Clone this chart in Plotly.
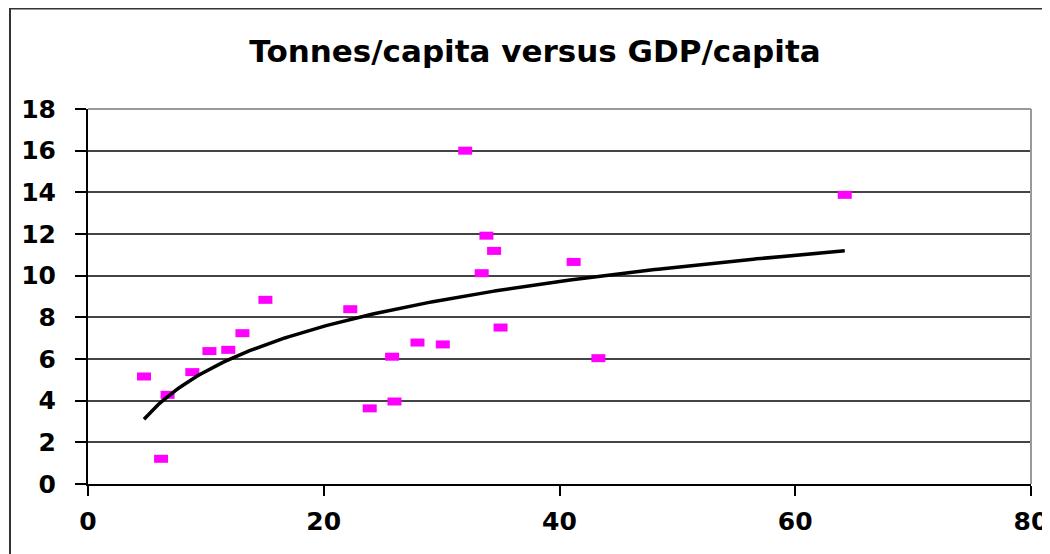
import numpy as np
import plotly.graph_objects as go

# GDP per capita (thousands) and tonnes per capita
gdp = [4.75, 6.2, 6.75, 8.85, 10.3, 11.9, 13.1, 15.05, 22.25, 23.9, 25.8, 26.0,
       27.95, 30.1, 32.0, 33.4, 33.8, 34.45, 35.0, 41.2, 43.3, 64.2]
tonnes = [5.16, 1.21, 4.28, 5.37, 6.38, 6.44, 7.24, 8.84, 8.39, 3.63, 6.11, 3.96,
          6.79, 6.70, 16.0, 10.12, 11.92, 11.19, 7.51, 10.66, 6.04, 13.88]

title_text = "Tonnes/capita versus GDP/capita"
x_ticks = [0, 20, 40, 60, 80]
y_ticks = [0, 2, 4, 6, 8, 10, 12, 14, 16, 18]

# Logarithmic trendline (least squares on ln x), as in a spreadsheet trendline
xg = np.array(gdp)
b, a = np.polyfit(np.log(xg), np.array(tonnes), 1)
xt = np.linspace(xg.min(), xg.max(), 200)
yt = a + b * np.log(xt)

fig = go.Figure()
fig.add_trace(go.Scatter(
    x=gdp, y=tonnes, mode="markers",
    marker=dict(symbol="line-ew", size=10, color="#ff00ff",
                line=dict(color="#ff00ff", width=8)),
    showlegend=False, hoverinfo="x+y"))
fig.add_trace(go.Scatter(
    x=xt, y=yt, mode="lines", line=dict(color="black", width=3.5),
    showlegend=False, hoverinfo="skip"))

tick_font = dict(family="DejaVu Sans", size=25, color="black", weight="bold")

# page body has an 8px margin, so the figure is 8px smaller and offset
W, H = 1042, 546
L, R, T, B = 80, 19, 101, 70
pw, ph = W - L - R, H - T - B

def px_x(x):  # figure pixel -> paper x
    return (x - L) / pw

def px_y(y):  # figure pixel -> paper y
    return (H - B - y) / ph

fig.update_layout(
    width=W, height=H,
    margin=dict(l=L, r=R, t=T, b=B, autoexpand=False),
    paper_bgcolor="white", plot_bgcolor="white",
    title=dict(text=title_text, xref="container", x=527 / W,
               y=1 - 43 / H, yanchor="middle", xanchor="center",
               font=dict(family="DejaVu Sans", size=31, color="black",
                         weight="bold")),
    xaxis=dict(range=[0, 80], tickvals=x_ticks, showgrid=False, automargin=False,
               zeroline=False, showline=True, linecolor="black", linewidth=2,
               ticks="outside", ticklen=10, tickwidth=2, tickcolor="black",
               tickfont=tick_font, ticklabelstandoff=4),
    yaxis=dict(range=[0, 18], tickvals=y_ticks, showgrid=True, automargin=False,
               gridcolor="#444444", gridwidth=1.5,
               zeroline=False, showline=True, linecolor="black", linewidth=2,
               ticks="outside", ticklen=11, tickwidth=2, tickcolor="black",
               tickfont=tick_font, ticklabelstandoff=14),
    shapes=[
        # plot area border (top & right), grey
        dict(type="line", xref="paper", yref="paper", x0=0, x1=1, y0=1, y1=1,
             line=dict(color="#999999", width=2), layer="above"),
        dict(type="line", xref="paper", yref="paper", x0=1, x1=1, y0=0, y1=1,
             line=dict(color="#999999", width=2), layer="above"),
        # outer chart frame (left & top)
        dict(type="line", xref="paper", yref="paper", x0=px_x(2), x1=px_x(2),
             y0=px_y(0), y1=px_y(H + 10), line=dict(color="#333333", width=2)),
        dict(type="line", xref="paper", yref="paper", x0=px_x(2), x1=px_x(W + 10),
             y0=px_y(0.5), y1=px_y(0.5), line=dict(color="#333333", width=2)),
    ],
)

fig.write_html("out.html")
